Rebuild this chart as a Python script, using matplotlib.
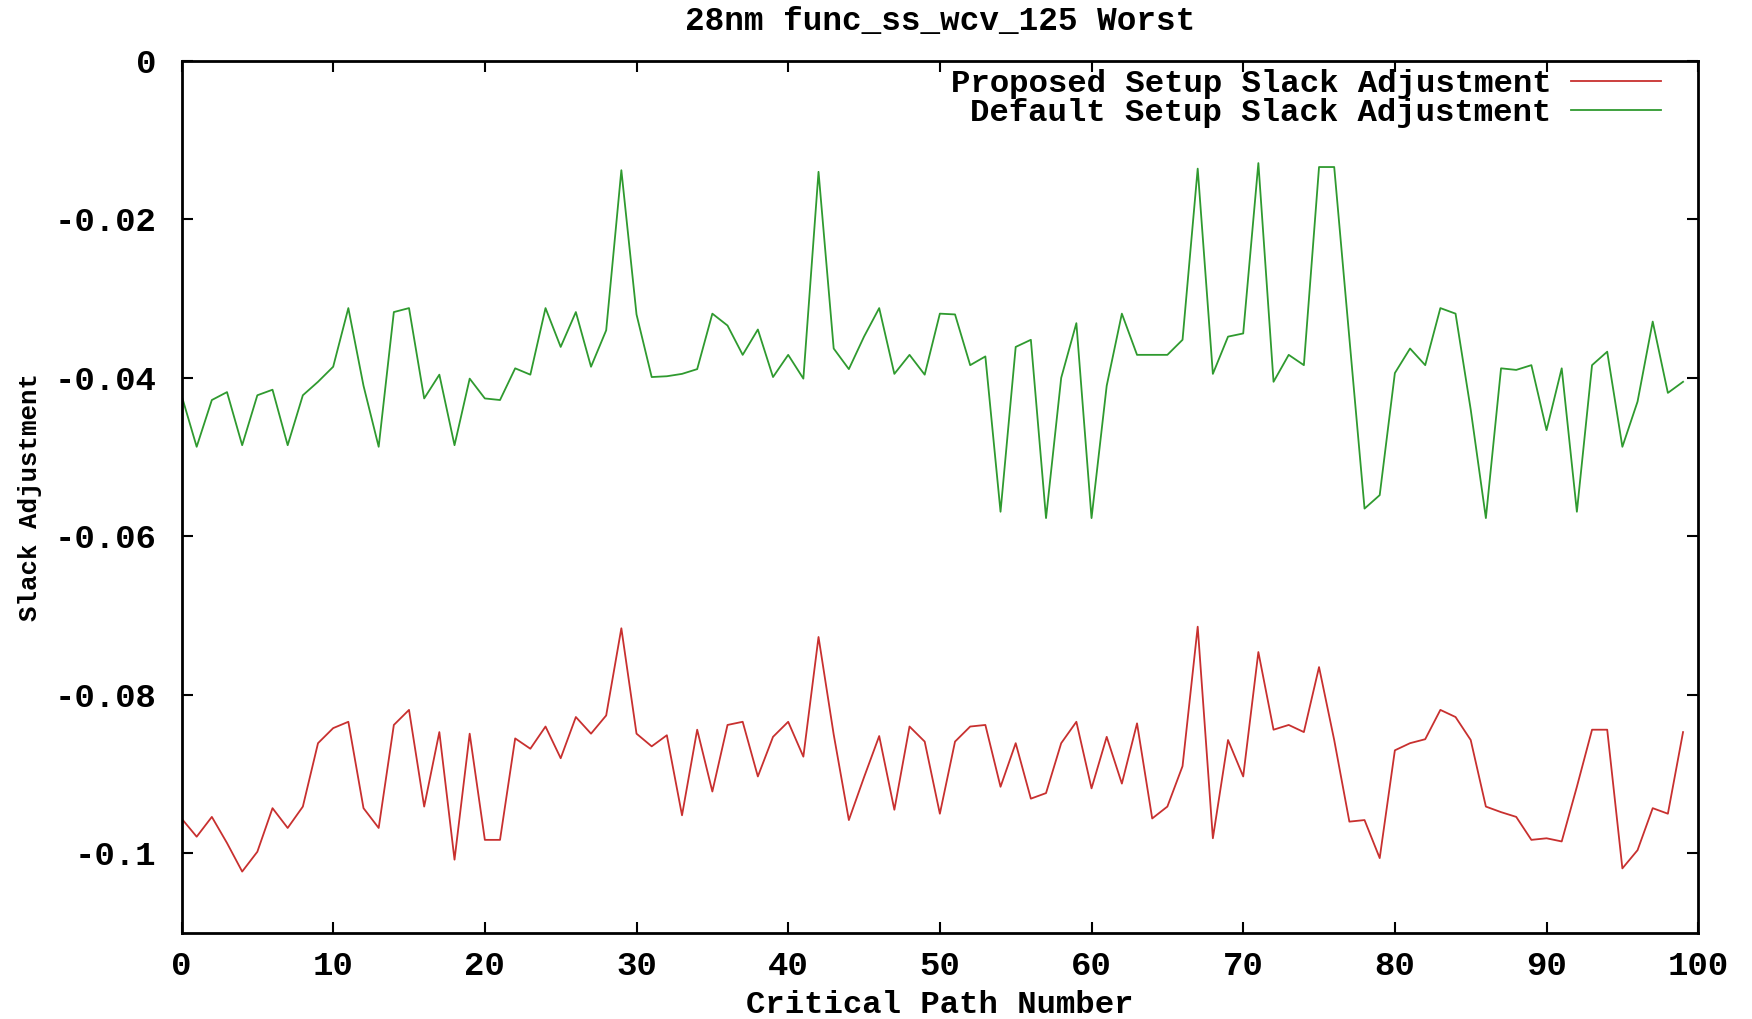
import matplotlib
matplotlib.use("Agg")  # headless backend

import matplotlib.pyplot as plt
from matplotlib.ticker import FixedLocator, FixedFormatter

# slack adjustment per critical path
path_ids = list(range(100))

proposed = [
    -0.0956, -0.0979, -0.0954, -0.0987, -0.1023, -0.0998, -0.0943, -0.0968, -0.0941, -0.0861,
    -0.0842, -0.0834, -0.0943, -0.0968, -0.0838, -0.0819, -0.0941, -0.0847, -0.1008, -0.0849,
    -0.0983, -0.0983, -0.0855, -0.0868, -0.0840, -0.0880, -0.0828, -0.0849, -0.0826, -0.0716,
    -0.0849, -0.0865, -0.0851, -0.0952, -0.0844, -0.0922, -0.0838, -0.0834, -0.0903, -0.0853,
    -0.0834, -0.0878, -0.0727, -0.0850, -0.0958, -0.0904, -0.0852, -0.0945, -0.0840, -0.0859,
    -0.0950, -0.0859, -0.0840, -0.0838, -0.0916, -0.0861, -0.0931, -0.0924, -0.0861, -0.0834,
    -0.0918, -0.0853, -0.0912, -0.0836, -0.0956, -0.0941, -0.0890, -0.0714, -0.0981, -0.0857,
    -0.0903, -0.0746, -0.0844, -0.0838, -0.0847, -0.0765, -0.0857, -0.0960, -0.0958, -0.1006,
    -0.0870, -0.0861, -0.0856, -0.0819, -0.0828, -0.0857, -0.0941, -0.0948, -0.0954, -0.0983,
    -0.0981, -0.0985, -0.0916, -0.0844, -0.0844, -0.1019, -0.0996, -0.0943, -0.0950, -0.0847,
]

default = [
    -0.0422, -0.0487, -0.0428, -0.0418, -0.0485, -0.0422, -0.0415, -0.0485, -0.0422, -0.0405,
    -0.0386, -0.0312, -0.0410, -0.0487, -0.0317, -0.0312, -0.0426, -0.0396, -0.0485, -0.0401,
    -0.0426, -0.0428, -0.0388, -0.0396, -0.0312, -0.0361, -0.0317, -0.0386, -0.0340, -0.0138,
    -0.0320, -0.0399, -0.0398, -0.0395, -0.0389, -0.0319, -0.0334, -0.0371, -0.0339, -0.0399,
    -0.0371, -0.0401, -0.0140, -0.0363, -0.0389, -0.0348, -0.0312, -0.0395, -0.0371, -0.0396,
    -0.0319, -0.0320, -0.0384, -0.0373, -0.0569, -0.0361, -0.0352, -0.0577, -0.0400, -0.0331,
    -0.0577, -0.0410, -0.0319, -0.0371, -0.0371, -0.0371, -0.0352, -0.0136, -0.0395, -0.0348,
    -0.0344, -0.0129, -0.0405, -0.0371, -0.0384, -0.0134, -0.0134, -0.0350, -0.0565, -0.0548,
    -0.0394, -0.0363, -0.0384, -0.0312, -0.0319, -0.0440, -0.0577, -0.0388, -0.0390, -0.0384,
    -0.0466, -0.0388, -0.0569, -0.0384, -0.0367, -0.0487, -0.0430, -0.0329, -0.0419, -0.0405,
]

x_ticks = [0, 10, 20, 30, 40, 50, 60, 70, 80, 90, 100]
y_ticks = [0, -0.02, -0.04, -0.06, -0.08, -0.1]
y_tick_labels = ["0", "-0.02", "-0.04", "-0.06", "-0.08", "-0.1"]

plt.rcParams["font.family"] = ["Liberation Mono", "DejaVu Sans Mono"]
plt.rcParams["font.weight"] = "bold"
plt.rcParams["axes.labelweight"] = "bold"
plt.rcParams["axes.titleweight"] = "bold"

fig = plt.figure(figsize=(17.52, 10.19), dpi=100)
ax = fig.add_axes([0.1036, 0.0848, 0.8657, 0.8555])

ax.plot(path_ids, proposed, color="#c8302f", lw=1.3, label="Proposed Setup Slack Adjustment")
ax.plot(path_ids, default, color="#2f9a2f", lw=1.3, label="Default Setup Slack Adjustment")

ax.set_xlim(0, 100)
ax.set_ylim(-0.11, 0)
ax.xaxis.set_major_locator(FixedLocator(x_ticks))
ax.yaxis.set_major_locator(FixedLocator(y_ticks))
ax.yaxis.set_major_formatter(FixedFormatter(y_tick_labels))

for s in ax.spines.values():
    s.set_linewidth(2)
ax.tick_params(direction="in", length=8, width=1.5, top=True, right=True, labelsize=24.5)
ax.tick_params(axis="y", pad=18)
ax.tick_params(axis="x", pad=13)

ax.set_title("28nm func_ss_wcv_125 Worst", fontsize=23.5, pad=22)
ax.set_xlabel("Critical Path Number", fontsize=23.2, labelpad=6)
ax.set_ylabel("Slack Adjustment", fontsize=18.5, labelpad=9)

ax.legend(loc="upper right", bbox_to_anchor=(0.9757, 0.9906), frameon=False,
          markerfirst=False, fontsize=23.3,
          handlelength=2.8, handletextpad=0.6, labelspacing=-0.03,
          borderaxespad=0, borderpad=0)

fig.savefig("out.png", dpi=100)
